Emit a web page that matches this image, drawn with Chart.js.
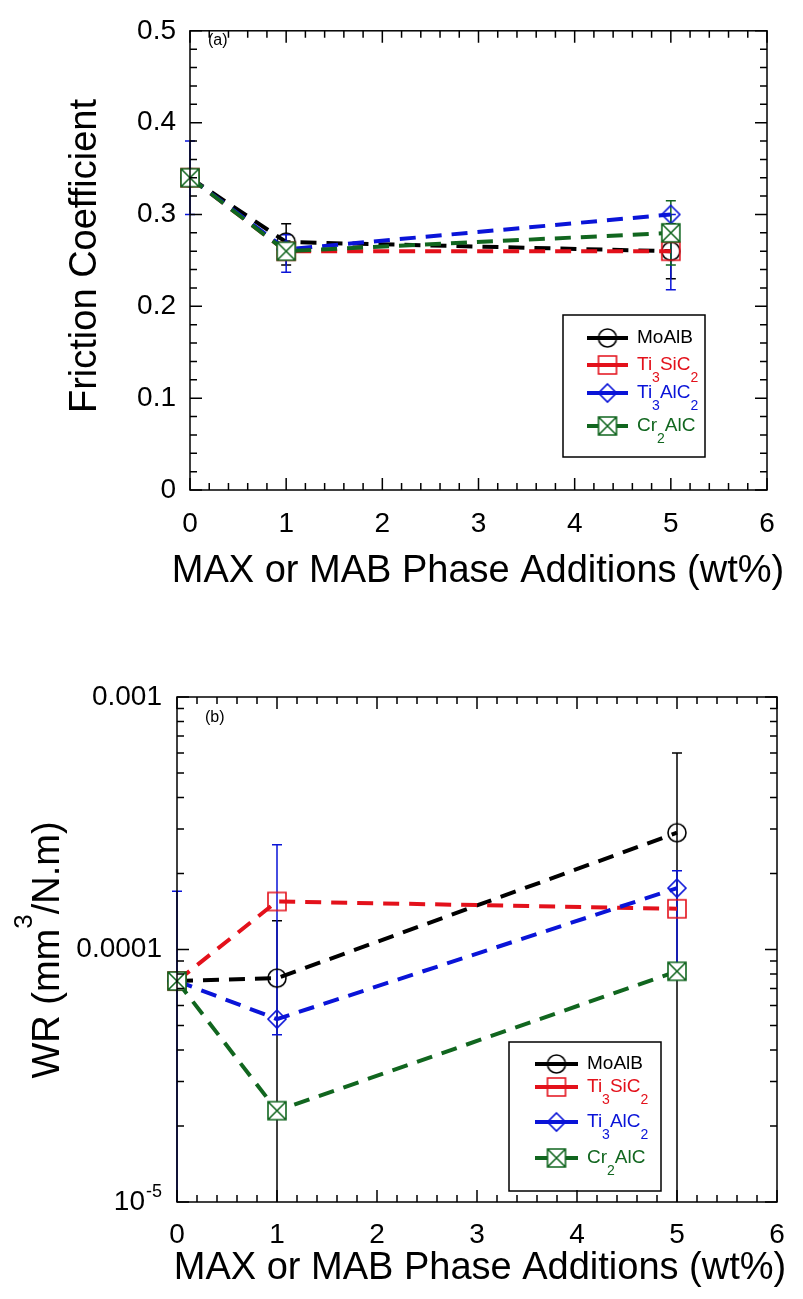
<!DOCTYPE html>
<html>
<head>
<meta charset="utf-8">
<script src="https://cdn.jsdelivr.net/npm/chart.js@4.4.0/dist/chart.umd.min.js"></script>
<style>
body { margin: 0; background: #fff; }
#wrap { position: relative; width: 803px; height: 1299px; }
canvas { position: absolute; left: 0; }
</style>
</head>
<body>
<div id="wrap">
  <canvas id="friction-chart" width="803" height="640" style="top:0"></canvas>
  <canvas id="wear-chart" width="803" height="659" style="top:640px"></canvas>
</div>
<script>
// ---- data ----
const additions = [0, 1, 5];
const xTicks = [0, 1, 2, 3, 4, 5, 6];

// (a) friction coefficient
const frictionMoAlB  = [0.34, 0.27, 0.26];
const frictionTi3SiC2 = [0.34, 0.26, 0.26];
const frictionTi3AlC2 = [0.34, 0.262, 0.30];
const frictionCr2AlC  = [0.34, 0.26, 0.28];
// error bar ends (null = none visible)
const frictionErrLoMoAlB  = [null, 0.245, 0.23];
const frictionErrHiMoAlB  = [null, 0.29, 0.29];
const frictionErrLoTi3AlC2 = [0.30, 0.237, 0.218];
const frictionErrHiTi3AlC2 = [0.38, 0.278, 0.30];
const frictionErrLoCr2AlC  = [null, null, 0.245];
const frictionErrHiCr2AlC  = [null, null, 0.315];

// (b) wear rate, mm3/N.m
const wearMoAlB   = [7.5e-5, 7.7e-5, 2.9e-4];
const wearTi3SiC2 = [7.5e-5, 1.55e-4, 1.45e-4];
const wearTi3AlC2 = [7.5e-5, 5.3e-5, 1.75e-4];
const wearCr2AlC  = [7.5e-5, 2.3e-5, 8.2e-5];
const wearErrLoMoAlB   = [null, 1e-6, 1e-6];
const wearErrHiMoAlB   = [null, 1.3e-4, 6e-4];
const wearErrLoTi3AlC2 = [1e-6, 4.6e-5, 8e-5];
const wearErrHiTi3AlC2 = [1.7e-4, 2.6e-4, 2.05e-4];

const FONT = '"Liberation Sans", Arial, Helvetica, sans-serif';
const BLACK = '#000000', RED = '#e3111b', BLUE = '#0a14d8', GREEN = '#11661f';

// marker images (hollow symbols like the original plot)
function makeMarker(kind, color) {
  const c = document.createElement('canvas');
  c.width = 24; c.height = 24;
  const g = c.getContext('2d');
  g.strokeStyle = color;
  g.lineWidth = 1.6;
  g.beginPath();
  if (kind === 'circle') {
    g.arc(12, 12, 9, 0, Math.PI * 2);
  } else if (kind === 'square') {
    g.rect(3, 3, 18, 18);
  } else if (kind === 'diamond') {
    g.moveTo(12, 3); g.lineTo(21, 12); g.lineTo(12, 21); g.lineTo(3, 12); g.closePath();
  } else {
    g.fillStyle = '#fff';
    g.fillRect(3, 3, 18, 18);
    g.rect(3, 3, 18, 18);
    g.moveTo(3, 3); g.lineTo(21, 21);
    g.moveTo(21, 3); g.lineTo(3, 21);
  }
  g.stroke();
  return c;
}

const series = [
  { name: [['MoAlB', 0]], color: BLACK, marker: makeMarker('circle', BLACK) },
  { name: [['Ti', 0], ['3', 1], ['SiC', 0], ['2', 1]], color: RED, marker: makeMarker('square', RED) },
  { name: [['Ti', 0], ['3', 1], ['AlC', 0], ['2', 1]], color: BLUE, marker: makeMarker('diamond', BLUE) },
  { name: [['Cr', 0], ['2', 1], ['AlC', 0]], color: GREEN, marker: makeMarker('xsquare', GREEN) }
];

function makeDatasets(values) {
  return values.map((vals, i) => ({
    label: series[i].name.map(p => p[0]).join(''),
    data: additions.map((x, j) => ({ x: x, y: vals[j] })),
    borderColor: series[i].color,
    backgroundColor: series[i].color,
    borderWidth: 4,
    borderDash: [16, 10],
    pointStyle: series[i].marker,
    pointRadius: 10,
    pointHoverRadius: 10,
    tension: 0,
    clip: false,
    order: 3 - i
  }));
}

function drawFormula(ctx, parts, x, y, size, color) {
  ctx.fillStyle = color;
  ctx.textAlign = 'left';
  ctx.textBaseline = 'middle';
  parts.forEach(p => {
    const sub = p[1] === 1;
    ctx.font = (sub ? Math.round(size * 0.75) : size) + 'px ' + FONT;
    ctx.fillText(p[0], x, sub ? y + 13 : y);
    x += ctx.measureText(p[0]).width;
  });
}

// error bars, drawn under the symbols
const errorBars = {
  id: 'errorBars',
  beforeDatasetsDraw(chart, args, opts) {
    const ctx = chart.ctx, xs = chart.scales.x, ys = chart.scales.y, a = chart.chartArea;
    ctx.save();
    ctx.lineWidth = 1.5;
    opts.bars.forEach(b => {
      ctx.strokeStyle = b.color;
      additions.forEach((xv, j) => {
        if (b.lo[j] == null) return;
        const px = xs.getPixelForValue(xv);
        let y1 = ys.getPixelForValue(b.lo[j]);
        let y2 = ys.getPixelForValue(b.hi[j]);
        const cap1 = y1 <= a.bottom, cap2 = y2 >= a.top;
        y1 = Math.min(y1, a.bottom); y2 = Math.max(y2, a.top);
        ctx.beginPath();
        ctx.moveTo(px, y1); ctx.lineTo(px, y2);
        if (cap1) { ctx.moveTo(px - 5, y1); ctx.lineTo(px + 5, y1); }
        if (cap2) { ctx.moveTo(px - 5, y2); ctx.lineTo(px + 5, y2); }
        ctx.stroke();
      });
    });
    ctx.restore();
  }
};

// box frame with inward ticks on all four sides, titles, legend
const frame = {
  id: 'frame',
  afterDraw(chart, args, o) {
    const ctx = chart.ctx, a = chart.chartArea, xs = chart.scales.x, ys = chart.scales.y;
    ctx.save();
    ctx.strokeStyle = '#000';
    ctx.lineWidth = 1.5;
    ctx.strokeRect(a.left, a.top, a.right - a.left, a.bottom - a.top);
    ctx.beginPath();
    for (let i = 0; i <= 30; i++) {
      const px = xs.getPixelForValue(i * 0.2), len = i % 5 === 0 ? 12 : 7;
      ctx.moveTo(px, a.bottom); ctx.lineTo(px, a.bottom - len);
      ctx.moveTo(px, a.top); ctx.lineTo(px, a.top + len);
    }
    o.yMinor.forEach(t => {
      const py = ys.getPixelForValue(t.v), len = t.major ? 12 : 7;
      ctx.moveTo(a.left, py); ctx.lineTo(a.left + len, py);
      ctx.moveTo(a.right, py); ctx.lineTo(a.right - len, py);
    });
    ctx.stroke();

    // panel tag
    ctx.fillStyle = '#000';
    ctx.font = '16px ' + FONT;
    ctx.textAlign = 'left';
    ctx.textBaseline = 'middle';
    ctx.fillText(o.tag, o.tagX, o.tagY);

    // axis titles
    ctx.font = '38px ' + FONT;
    ctx.textAlign = 'center';
    ctx.fillText(o.xTitle, o.xTitleX, o.xTitleY);
    ctx.save();
    ctx.translate(o.yTitleX, o.yTitleY);
    ctx.rotate(-Math.PI / 2);
    if (o.yTitleSup) {
      const parts = o.yTitleSup;
      let w = 0;
      parts.forEach(p => { ctx.font = (p[1] ? '26px ' : '38px ') + FONT; w += ctx.measureText(p[0]).width; });
      let x = -w / 2;
      ctx.textAlign = 'left';
      parts.forEach(p => {
        ctx.font = (p[1] ? '26px ' : '38px ') + FONT;
        ctx.fillText(p[0], x, p[1] ? -24 : 0);
        x += ctx.measureText(p[0]).width;
      });
    } else {
      ctx.fillText(o.yTitle, 0, 0);
    }
    ctx.restore();

    // 10^-5 tick label on the log axis
    if (o.powLabel) {
      const py = ys.getPixelForValue(o.powLabel.v);
      ctx.textAlign = 'right';
      ctx.font = '18px ' + FONT;
      const supW = ctx.measureText('-5').width;
      ctx.fillText('-5', a.left - 15, py - 10);
      ctx.font = '28px ' + FONT;
      ctx.fillText('10', a.left - 15 - supW - 1, py);
    }

    // legend
    const L = o.legend;
    ctx.lineWidth = 1.5;
    ctx.strokeStyle = '#000';
    ctx.strokeRect(L.x0, L.y0, L.x1 - L.x0, L.y1 - L.y0);
    series.forEach((s, i) => {
      const y = L.rows[i];
      ctx.strokeStyle = s.color;
      ctx.lineWidth = 4;
      ctx.beginPath();
      ctx.moveTo(L.lineX0, y); ctx.lineTo(L.lineX1, y);
      ctx.stroke();
      ctx.drawImage(s.marker, (L.lineX0 + L.lineX1) / 2 - 12, y - 12);
      drawFormula(ctx, s.name, L.textX, y, 19, s.color);
    });
    ctx.restore();
  }
};

const tickFont = { family: FONT, size: 28 };

function fixBox(width, height) {
  return scale => {
    if (width != null) scale.width = width;
    if (height != null) scale.height = height;
  };
}

// ---- (a) friction ----
const frictionMinor = [];
for (let i = 0; i <= 25; i++) frictionMinor.push({ v: i * 0.02, major: i % 5 === 0 });

new Chart(document.getElementById('friction-chart'), {
  type: 'line',
  data: { datasets: makeDatasets([frictionMoAlB, frictionTi3SiC2, frictionTi3AlC2, frictionCr2AlC]) },
  options: {
    responsive: false,
    animation: false,
    layout: { padding: { left: 0, top: 20, right: 36, bottom: 0 } },
    plugins: {
      legend: { display: false },
      tooltip: { enabled: false },
      errorBars: { bars: [
        { color: BLACK, lo: frictionErrLoMoAlB, hi: frictionErrHiMoAlB },
        { color: BLUE, lo: frictionErrLoTi3AlC2, hi: frictionErrHiTi3AlC2 },
        { color: GREEN, lo: frictionErrLoCr2AlC, hi: frictionErrHiCr2AlC }
      ] },
      frame: {
        yMinor: frictionMinor,
        tag: '(a)', tagX: 208, tagY: 41,
        xTitle: 'MAX or MAB Phase Additions (wt%)', xTitleX: 478, xTitleY: 572,
        yTitle: 'Friction Coefficient', yTitleX: 86, yTitleY: 256,
        legend: { x0: 563, y0: 315, x1: 705, y1: 457, rows: [338, 365, 393, 426], lineX0: 587, lineX1: 628, textX: 637 }
      }
    },
    scales: {
      x: {
        type: 'linear', min: 0, max: 6,
        afterBuildTicks: s => { s.ticks = xTicks.map(v => ({ value: v })); },
        afterFit: fixBox(null, 150),
        grid: { display: false, drawTicks: false },
        border: { display: false },
        ticks: { font: tickFont, color: '#000', padding: 17, maxRotation: 0 }
      },
      y: {
        type: 'linear', min: 0, max: 0.5,
        ticks: { stepSize: 0.1, font: tickFont, color: '#000', padding: 14 },
        afterFit: fixBox(190, null),
        grid: { display: false, drawTicks: false },
        border: { display: false }
      }
    }
  },
  plugins: [errorBars, frame]
});

// ---- (b) wear rate ----
const wearMinor = [];
[1e-5, 1e-4].forEach(d => { for (let m = 1; m <= 9; m++) wearMinor.push({ v: m * d, major: m === 1 }); });
wearMinor.push({ v: 1e-3, major: true });
const wearTickValues = [1e-5, 1e-4, 1e-3];
const wearTickLabels = ['', '0.0001', '0.001'];

new Chart(document.getElementById('wear-chart'), {
  type: 'line',
  data: { datasets: makeDatasets([wearMoAlB, wearTi3SiC2, wearTi3AlC2, wearCr2AlC]) },
  options: {
    responsive: false,
    animation: false,
    layout: { padding: { left: 0, top: 57, right: 26, bottom: 0 } },
    plugins: {
      legend: { display: false },
      tooltip: { enabled: false },
      errorBars: { bars: [
        { color: BLACK, lo: wearErrLoMoAlB, hi: wearErrHiMoAlB },
        { color: BLUE, lo: wearErrLoTi3AlC2, hi: wearErrHiTi3AlC2 }
      ] },
      frame: {
        yMinor: wearMinor,
        tag: '(b)', tagX: 205, tagY: 78,
        xTitle: 'MAX or MAB Phase Additions (wt%)', xTitleX: 480, xTitleY: 629,
        yTitleSup: [['WR (mm', 0], ['3', 1], ['/N.m)', 0]], yTitleX: 49, yTitleY: 310,
        powLabel: { v: 1e-5 },
        legend: { x0: 509, y0: 402, x1: 661, y1: 551, rows: [424, 447, 482, 518], lineX0: 535, lineX1: 578, textX: 587 }
      }
    },
    scales: {
      x: {
        type: 'linear', min: 0, max: 6,
        afterBuildTicks: s => { s.ticks = xTicks.map(v => ({ value: v })); },
        afterFit: fixBox(null, 97),
        grid: { display: false, drawTicks: false },
        border: { display: false },
        ticks: { font: tickFont, color: '#000', padding: 16, maxRotation: 0 }
      },
      y: {
        type: 'logarithmic', min: 1e-5, max: 1e-3,
        afterBuildTicks: s => { s.ticks = wearTickValues.map(v => ({ value: v })); },
        ticks: {
          font: tickFont, color: '#000', padding: 15,
          callback: v => wearTickLabels[wearTickValues.findIndex(t => Math.abs(t - v) / t < 1e-6)] || ''
        },
        afterFit: fixBox(177, null),
        grid: { display: false, drawTicks: false },
        border: { display: false }
      }
    }
  },
  plugins: [errorBars, frame]
});
</script>
</body>
</html>
